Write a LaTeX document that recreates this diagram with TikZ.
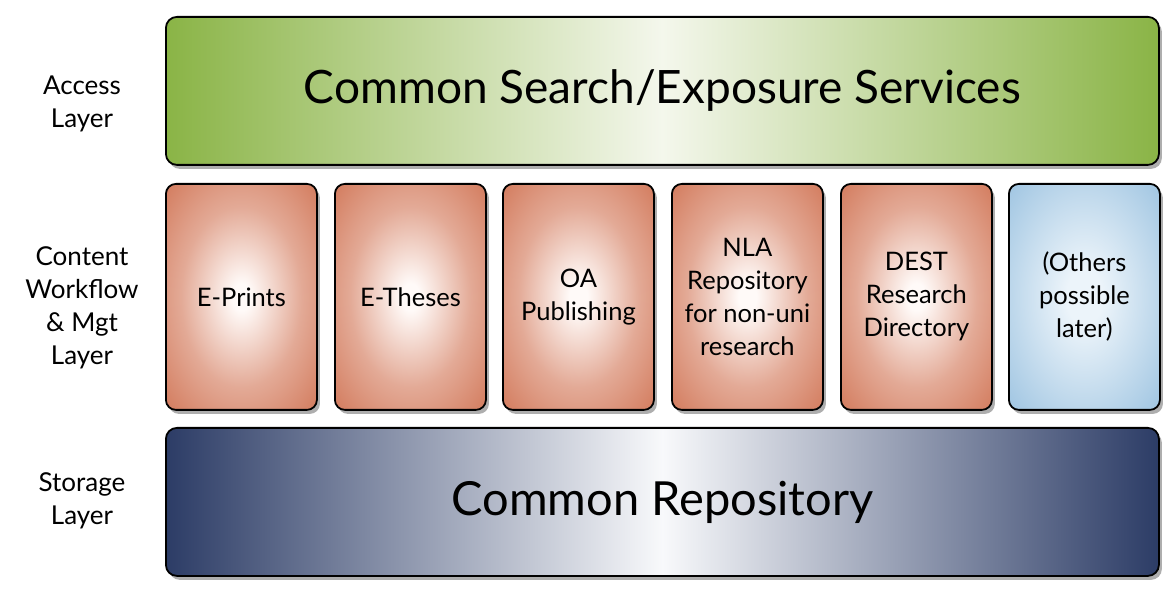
\documentclass[tikz,border=0pt]{standalone}
\usepackage{fontspec}
\setmainfont{Lato}
\usetikzlibrary{shadows}
\definecolor{accgreen}{RGB}{138,180,70}
\definecolor{acclight}{RGB}{244,247,236}
\definecolor{wforange}{RGB}{204,104,70}
\definecolor{wfdark}{RGB}{190,80,48}
\definecolor{wflight}{RGB}{255,250,248}
\definecolor{oblue}{RGB}{148,190,222}
\definecolor{olight}{RGB}{236,244,250}
\definecolor{stnavy}{RGB}{44,60,102}
\definecolor{stlight}{RGB}{248,249,251}
% soft radial glow for the cards (50bp reaches the card's side edges)
\pgfdeclareradialshading{wfglow}{\pgfpoint{0bp}{0bp}}{%
  color(0bp)=(wflight); color(3bp)=(wflight);
  color(20bp)=(wflight!45!wforange); color(42bp)=(wforange);
  color(60bp)=(wfdark); color(72bp)=(wfdark)}
\pgfdeclareradialshading{otherglow}{\pgfpoint{0bp}{0bp}}{%
  color(0bp)=(olight); color(6bp)=(olight);
  color(40bp)=(oblue); color(72bp)=(oblue!90!black)}
\tikzset{
  x=1pt, y=1pt,
  panel/.style={draw=black, line width=1.8pt, rounded corners=11pt,
    drop shadow={shadow xshift=3pt, shadow yshift=-4pt, opacity=0.45, fill=black!70},
    anchor=north west, inner sep=0pt, align=center},
  bar/.style={panel, minimum width=993, minimum height=148},
  accessbar/.style={bar, left color=accgreen, right color=accgreen,
    middle color=acclight, font=\fontsize{46}{54}\selectfont},
  storebar/.style={bar, left color=stnavy, right color=stnavy, middle color=stlight,
    font=\fontsize{47}{54}\selectfont},
  card/.style={panel, rounded corners=10pt, minimum width=151, minimum height=226,
    font=\fontsize{25.5}{33}\selectfont},
  wfcard/.style={card, shading=wfglow},
  othercard/.style={card, shading=otherglow},
  layerlabel/.style={align=center, font=\fontsize{26}{33}\selectfont}
}
\begin{document}
\begin{tikzpicture}
\useasboundingbox (0,0) rectangle (1173,-593);
% access layer
\node[accessbar] (access) at (165,-16) {Common Search/Exposure Services};
% content workflow layer
\node[wfcard] (eprints) at (165,-183) {E-Prints};
\node[wfcard] (etheses) at (334,-183) {E-Theses};
\node[wfcard] (oapub) at (502,-183) {OA\\Publishing};
\node[wfcard] (nla) at (671,-183) {NLA\\Repository\\for non-uni\\research};
\node[wfcard] (dest) at (840,-183) {DEST\\Research\\Directory};
\node[othercard] (others) at (1008,-183) {(Others\\possible\\later)};
% storage layer
\node[storebar] (store) at (165,-427) {Common Repository};
% layer labels
\node[layerlabel] (laccess) at (82,-104) {Access\\Layer};
\node[layerlabel] (lcontent) at (82,-308) {Content\\Workflow\\\& Mgt\\Layer};
\node[layerlabel] (lstore) at (82,-501) {Storage\\Layer};
\end{tikzpicture}
\end{document}
